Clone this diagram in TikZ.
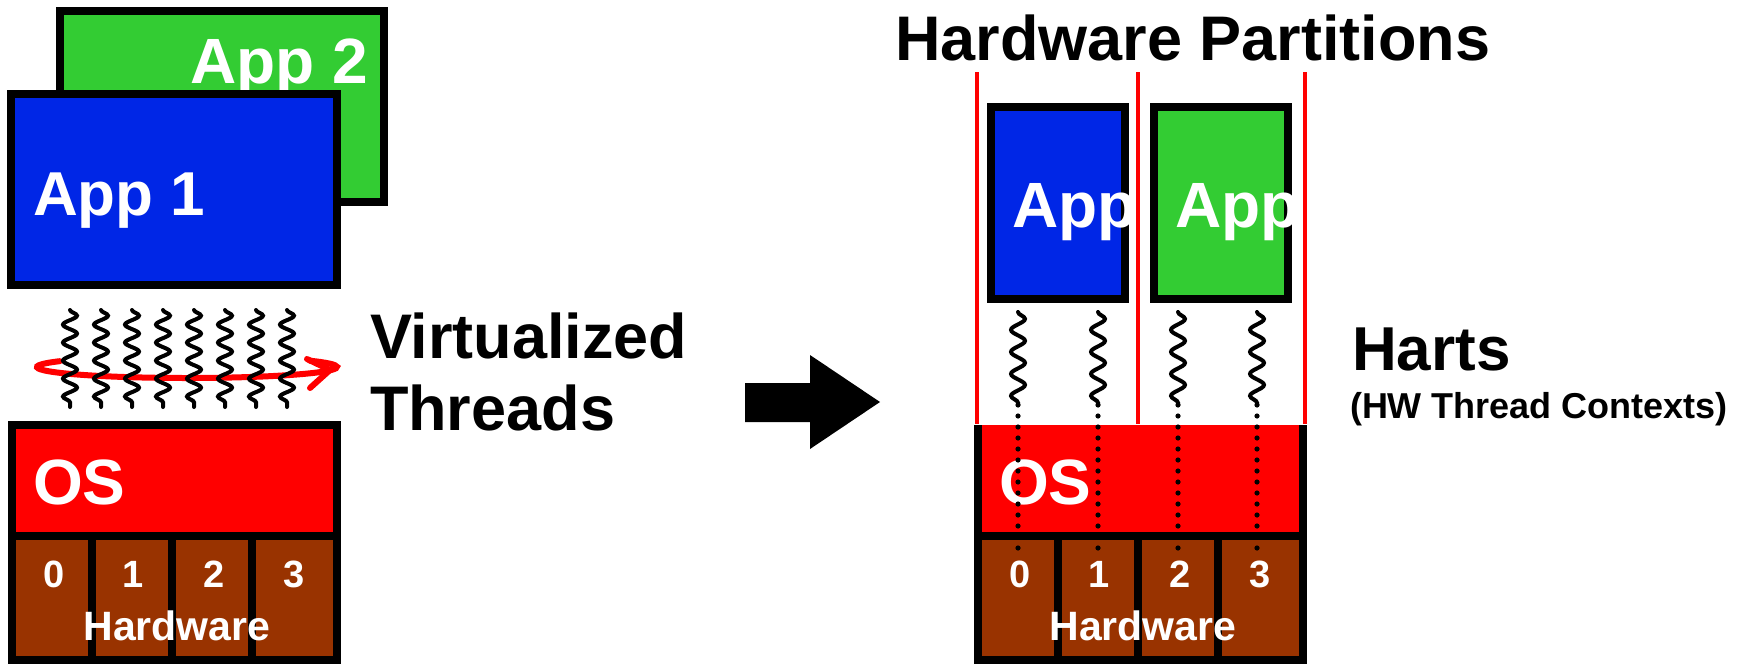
\documentclass[tikz,border=0pt]{standalone}
\usepackage{fontspec}
\setmainfont{Liberation Sans}
\usetikzlibrary{decorations.pathmorphing}

\definecolor{appblue}{RGB}{0,38,230}
\definecolor{appgreen}{RGB}{51,204,51}
\definecolor{osred}{RGB}{255,0,0}
\definecolor{hwbrown}{RGB}{153,51,0}
\newcommand{\fsz}[1]{\fontsize{#1}{#1}\selectfont\bfseries}

\begin{document}
\begin{tikzpicture}[x=0.5pt, y=-0.5pt,
    every node/.style={inner sep=0pt, outer sep=0pt},
    box/.style={draw=black, line width=4pt},
    part/.style={draw=osred, line width=2pt},
    thread/.style={line width=2pt, line cap=round, decorate,
      decoration={snake, amplitude=3.5pt, segment length=9pt}},
    hart/.style={line width=2pt, line cap=round, decorate,
      decoration={snake, amplitude=3.5pt, segment length=11pt}},
    pin/.style={line width=2.6pt, line cap=round, dash pattern=on 0pt off 5.5pt},
    big/.style={font=\fsz{32}, text=white, anchor=base west},
    title/.style={font=\fsz{31.5}, anchor=base west},
    num/.style={font=\fsz{19}, text=white, anchor=base}]
  \useasboundingbox (0,0) rectangle (1756,664);

  % left: two apps on one OS
  \draw[box, fill=appgreen] (60,11) rectangle (384,202);
  \node[big] (app2) at (190,83) {App 2};
  \draw[box, fill=appblue] (11,94) rectangle (337,285);
  \node[big, font=\fsz{31}] (app1) at (33,215) {App 1};

  % virtualized threads
  \draw[osred, line width=3pt, line cap=round] (187,367) ++(212:150 and 11)
    arc[start angle=212, end angle=-35, x radius=150, y radius=11];
  \draw[osred, line width=3pt, line cap=round, line join=round]
    (307,359) -- (330,370) -- (310,388);
  \foreach \x in {70,101,...,287}
    \draw[thread] (\x,310) -- (\x,407);
  \node[title] (virt) at (370,358) {Virtualized};
  \node[title] (thr) at (370,430) {Threads};

  % big arrow
  \fill (745,383) -- (810,383) -- (810,355) -- (880,402) -- (810,449)
    -- (810,422) -- (745,422) -- cycle;

  % OS and hardware, both sides
  \foreach \dx/\side in {0/l, 966/r} {
    \begin{scope}[shift={(\dx,0)}]
      \fill[osred] (12,425) rectangle (337,536);
      \draw[box] (12,425) -- (12,536) (337,425) -- (337,536);
      \foreach \xa/\xb/\n/\cx in {12/92/0/54, 92/172/1/133, 172/252/2/214, 252/337/3/294} {
        \draw[box, fill=hwbrown] (\xa,536) rectangle (\xb,660);
        \node[num] (n\n\side) at (\cx,587) {\n};
      }
      \node[big] (os\side) at (33,504) {OS};
      \node[font=\fsz{20.5}, text=white, anchor=base] (hw\side) at (177,640) {Hardware};
    \end{scope}
  }
  \draw[box] (8,425) -- (341,425);

  % right: partitions
  \node[title] (parts) at (895,60) {Hardware Partitions};
  \foreach \x in {977,1138,1305}
    \draw[part] (\x,72) -- (\x,424);
  \draw[box, fill=appblue] (991,107) rectangle (1125,299);
  \node[big] (appa) at (1012,227) {App};
  \draw[box, fill=appgreen] (1154,107) rectangle (1288,299);
  \node[big] (appb) at (1175,227) {App};

  % harts
  \foreach \x/\i in {1018/0, 1098/1, 1178/2, 1257/3} {
    \coordinate (h\i) at (\x,312);
    \coordinate (p\i) at (\x,405);
    \coordinate (c\i) at (\x,550);
    \draw[hart] (h\i) -- (p\i);
    \draw[pin] (p\i) -- (c\i);
  }
  \node[font=\fsz{31}, anchor=base west] (harts) at (1352,370) {Harts};
  \node[font=\fsz{18}, anchor=base west] (ctx) at (1350,418) {(HW Thread Contexts)};
\end{tikzpicture}
\end{document}
